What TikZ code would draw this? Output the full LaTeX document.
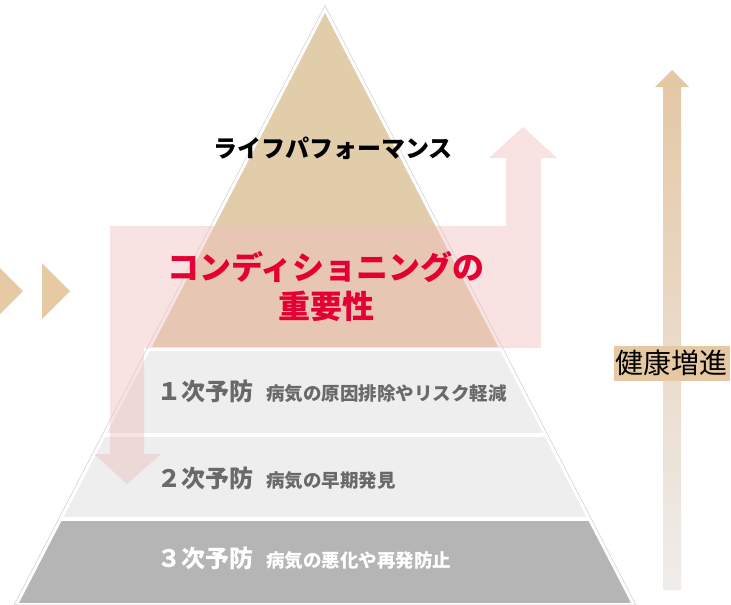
\documentclass[tikz,border=0pt]{standalone}
\usepackage{fontspec}
\newfontfamily\jp{Noto Sans CJK JP}
\definecolor{toptan}{RGB}{226,205,170}
\definecolor{layerlight}{RGB}{237,238,237}
\definecolor{layerdark}{RGB}{180,181,180}
\definecolor{chevtan}{RGB}{230,202,164}
\definecolor{pinkband}{RGB}{239,191,191}
\definecolor{condred}{RGB}{228,0,50}
\definecolor{txtgray}{RGB}{105,105,105}
\definecolor{arrtop}{RGB}{228,199,164}
\definecolor{arrbot}{RGB}{239,237,235}
\definecolor{labeltan}{RGB}{230,201,163}

\begin{document}
\begin{tikzpicture}[x=1pt,y=-1pt,
	layertext/.style={anchor=west, inner sep=0pt, text=txtgray, font=\jp\bfseries},
	pinkarrow/.style={fill=pinkband, fill opacity=.45},
	chevron/.style={fill=chevtan}]
	\useasboundingbox (0,0) rectangle (731,605);

	% pyramid outline and layers
	\draw[gray!35, line width=.6pt] (325,5.5) -- (14,605) -- (636,605) -- cycle;
	\begin{scope}
		\clip (325,13) -- (19,603) -- (631,603) -- cycle;
		\fill[toptan] (0,0) rectangle (731,347);
		\fill[layerlight] (0,351) rectangle (731,433);
		\fill[layerlight] (0,437) rectangle (731,517);
		\fill[layerdark] (0,521) rectangle (731,603);
	\end{scope}

	% chevrons on the left
	\fill[chevron] (-5,263) -- (23,291) -- (-5,319) -- cycle;
	\fill[chevron] (42,263) -- (70,291) -- (42,319) -- cycle;

	% band with up and down arrows
	\fill[pinkarrow] (110,226) -- (506,226) -- (506,158) -- (489,158) -- (523,127) -- (557,158) -- (541,158) -- (541,348) -- (144,348) -- (144,454) -- (161,454) -- (127,484) -- (94,454) -- (110,454) -- cycle;

	% health arrow
	\shade[top color=arrtop, bottom color=arrbot] (663,590) -- (663,87) -- (655,87) -- (672,70) -- (689,87) -- (681,87) -- (681,590) -- cycle;
	\node[fill=labeltan, inner sep=2pt, minimum height=35pt, font=\jp\fontsize{28}{28}\selectfont] (health) at (671.5,363) {健康増進};

	\node[font=\jp\bfseries\fontsize{24}{24}\selectfont] (life) at (333,148) {ライフパフォーマンス};
	\node[align=center, text=condred, font=\jp\bfseries\fontsize{32}{39}\selectfont] (cond) at (326,287) {コンディショニングの\\重要性};

	\node[layertext] (prev1) at (157,391) {{\fontsize{24}{24}\selectfont １次予防}\hspace{13pt}{\fontsize{18.5}{18.5}\selectfont 病気の原因排除やリスク軽減}};
	\node[layertext] (prev2) at (157,478) {{\fontsize{24}{24}\selectfont ２次予防}\hspace{13pt}{\fontsize{18.5}{18.5}\selectfont 病気の早期発見}};
	\node[layertext, text=white] (prev3) at (157,558) {{\fontsize{24}{24}\selectfont ３次予防}\hspace{13pt}{\fontsize{18.5}{18.5}\selectfont 病気の悪化や再発防止}};
\end{tikzpicture}
\end{document}
